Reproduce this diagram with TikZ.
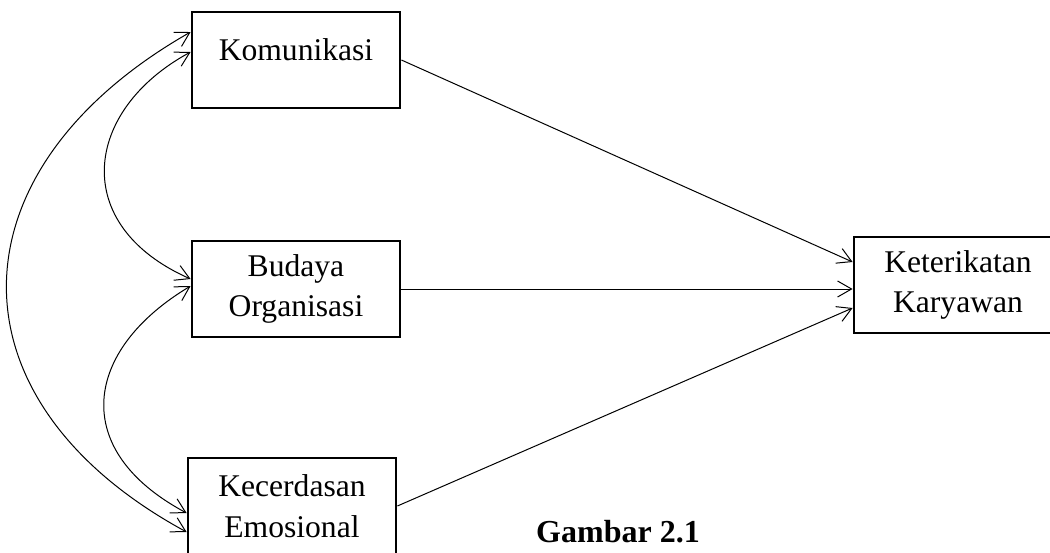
\documentclass[tikz,border=0pt]{standalone}
\usepackage{fontspec}
\setmainfont{Liberation Serif}
\usetikzlibrary{arrows.meta, calc}
\begin{document}
\begin{tikzpicture}[x = 0.5pt, y = -0.5pt,
        var/.style = {draw, line width = 1.4pt, minimum width = 104pt, minimum height = 48pt, inner sep = 0pt, align = center, font = \fontsize{15.8}{20.2}\selectfont},
        arr/.style = {line width = 0.5pt, -{Straight Barb[length = 7pt, width = 8pt]}},
        covarr/.style = {line width = 0.5pt, {Straight Barb[length = 7pt, width = 8pt]}-{Straight Barb[length = 7pt, width = 8pt]}}]
            \useasboundingbox (0, 0) rectangle (1050, 552);
            \node [var, text depth = 10pt] (kom) at (296, 60) {Komunikasi};
            \node [var] (bud) at (296, 289) {Budaya\\Organisasi};
            \node [var] (kec) at (292, 506) {Kecerdasan\\Emosional};
            \node [var] (ket) at (958, 285) {Keterikatan\\Karyawan};
            \draw [arr] (kom.east) -- ($(ket.west) + (0, -23)$);
            \draw [arr] (bud.east) -- (bud.east -| ket.west);
            \draw [arr] (kec.east) -- ($(ket.west) + (0, 23)$);
            \draw [covarr] ($(kom.west) + (0, -28)$) .. controls +(-242, 138) and +(-243, -132) .. ($(kec.west) + (0, 26)$);
            \draw [covarr] ($(kom.west) + (0, -8)$) .. controls +(-107, 58) and +(-122, -54) .. ($(bud.west) + (0, -10)$);
            \draw [covarr] ($(bud.west) + (0, -3)$) .. controls +(-107, 64) and +(-118, -63) .. ($(kec.west) + (0, 7)$);
            \node [anchor = base, font = \fontsize{16}{19}\selectfont\bfseries] (cap) at (618, 542) {Gambar 2.1};
        \end{tikzpicture}
\end{document}
